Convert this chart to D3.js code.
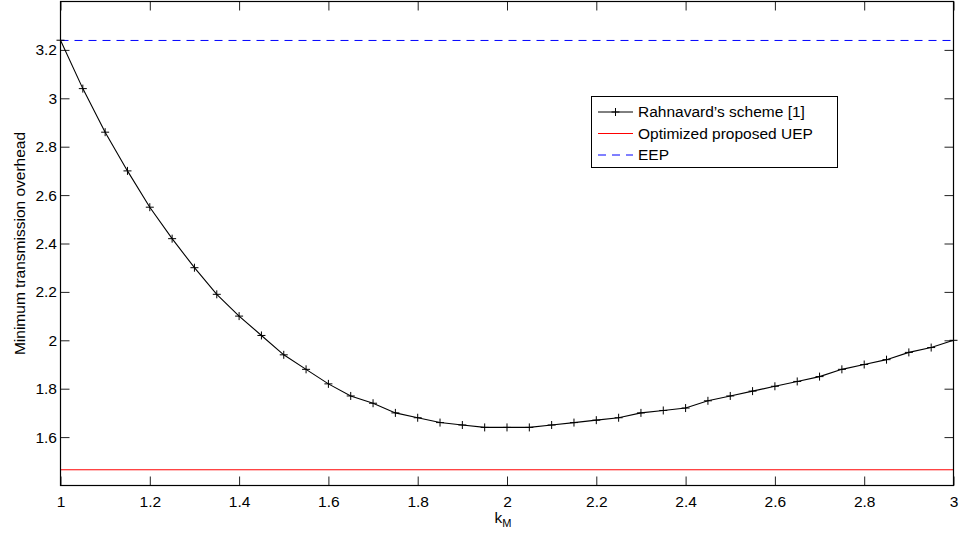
<!DOCTYPE html>
<html>
<head>
<meta charset="utf-8">
<script src="https://cdn.jsdelivr.net/npm/d3@7"></script>
<style>
  html, body { margin: 0; padding: 0; background: #fff; }
  svg { display: block; font-family: "Liberation Sans", Arial, sans-serif; }
</style>
</head>
<body>
<svg id="chart" width="961" height="538"></svg>
<script>
// k_M values and the minimum transmission overhead of Rahnavard's scheme
const kM = [1.00, 1.05, 1.10, 1.15, 1.20, 1.25, 1.30, 1.35, 1.40, 1.45,
            1.50, 1.55, 1.60, 1.65, 1.70, 1.75, 1.80, 1.85, 1.90, 1.95,
            2.00, 2.05, 2.10, 2.15, 2.20, 2.25, 2.30, 2.35, 2.40, 2.45,
            2.50, 2.55, 2.60, 2.65, 2.70, 2.75, 2.80, 2.85, 2.90, 2.95, 3.00];
const rahnavard = [3.24, 3.04, 2.86, 2.70, 2.55, 2.42, 2.30, 2.19, 2.10, 2.02,
                   1.94, 1.88, 1.82, 1.77, 1.74, 1.70, 1.68, 1.66, 1.65, 1.64,
                   1.64, 1.64, 1.65, 1.66, 1.67, 1.68, 1.70, 1.71, 1.72, 1.75,
                   1.77, 1.79, 1.81, 1.83, 1.85, 1.88, 1.90, 1.92, 1.95, 1.97, 2.00];
// Constant reference levels
const optimizedUEP = 1.465;
const eep = 3.239;

const xTicks = [1, 1.2, 1.4, 1.6, 1.8, 2, 2.2, 2.4, 2.6, 2.8, 3];
const yTicks = [1.6, 1.8, 2, 2.2, 2.4, 2.6, 2.8, 3, 3.2];
const legendLabels = ["Rahnavard\u2019s scheme [1]", "Optimized proposed UEP", "EEP"];

const svg = d3.select("#chart");
const L = 60.5, R = 953.5, T = 1.5, B = 485.5;
const fontSize = "15.5px";

const x = d3.scaleLinear().domain([1, 3]).range([L, R]);
const y = d3.scaleLinear().domain([1.4, 3.4]).range([B, T]);

const tickLen = 9;
const fmt = d => String(+d.toFixed(1));

// Axes: ticks point inward on all four sides
const gx = svg.append("g").attr("transform", `translate(0,${B})`)
  .call(d3.axisBottom(x).tickValues(xTicks).tickFormat(fmt).tickSizeInner(-tickLen).tickSizeOuter(0).tickPadding(10));
const gxt = svg.append("g").attr("transform", `translate(0,${T})`)
  .call(d3.axisTop(x).tickValues(xTicks).tickFormat("").tickSizeInner(-tickLen).tickSizeOuter(0));
const gy = svg.append("g").attr("transform", `translate(${L},0)`)
  .call(d3.axisLeft(y).tickValues(yTicks).tickFormat(fmt).tickSizeInner(-tickLen).tickSizeOuter(0).tickPadding(3.5));
const gyr = svg.append("g").attr("transform", `translate(${R},0)`)
  .call(d3.axisRight(y).tickValues(yTicks).tickFormat("").tickSizeInner(-tickLen).tickSizeOuter(0));

[gx, gxt, gy, gyr].forEach(g => {
  g.select(".domain").remove();
  g.selectAll(".tick line").attr("stroke", "#222").attr("stroke-width", 1);
  g.selectAll(".tick text").attr("fill", "#000").style("font-size", fontSize)
    .style("font-family", "'Liberation Sans', Arial, sans-serif");
});
gx.selectAll(".tick text").attr("dy", "0.71em");

// Reference lines
svg.append("line")
  .attr("x1", x(1)).attr("x2", x(3)).attr("y1", y(optimizedUEP)).attr("y2", y(optimizedUEP))
  .attr("stroke", "#ff0000").attr("stroke-width", 1);
svg.append("line")
  .attr("x1", x(1)).attr("x2", x(3)).attr("y1", y(eep)).attr("y2", y(eep))
  .attr("stroke", "#0000ff").attr("stroke-width", 1).attr("stroke-dasharray", "8,6");

// Rahnavard's scheme curve with '+' markers
const pts = kM.map((k, i) => [k, rahnavard[i]]);
svg.append("path")
  .datum(pts)
  .attr("fill", "none").attr("stroke", "#000").attr("stroke-width", 1.1)
  .attr("d", d3.line().x(d => x(d[0])).y(d => y(d[1])));
const ms = 4;
svg.append("g").selectAll("path.mk").data(pts).join("path")
  .attr("class", "mk")
  .attr("fill", "none").attr("stroke", "#000").attr("stroke-width", 1)
  .attr("d", d => {
    const cx = x(d[0]), cy = y(d[1]);
    return `M${cx - ms},${cy}H${cx + ms}M${cx},${cy - ms}V${cy + ms}`;
  });

// Plot frame
svg.append("rect")
  .attr("x", L).attr("y", T).attr("width", R - L).attr("height", B - T)
  .attr("fill", "none").attr("stroke", "#000").attr("stroke-width", 1.2);

// Axis labels
const xl = svg.append("text")
  .attr("x", x(2) - 4).attr("y", 523).attr("text-anchor", "middle")
  .style("font-size", fontSize).attr("fill", "#000");
xl.append("tspan").text("k");
xl.append("tspan").attr("dy", 4).style("font-size", "11px").text("M");

svg.append("text")
  .attr("transform", `translate(25,${(T + B) / 2}) rotate(-90)`)
  .attr("text-anchor", "middle")
  .style("font-size", fontSize).attr("fill", "#000")
  .text("Minimum transmission overhead");

// Legend
const lg = svg.append("g");
lg.append("rect")
  .attr("x", 591.5).attr("y", 96.5).attr("width", 246).attr("height", 71)
  .attr("fill", "#fff").attr("stroke", "#000").attr("stroke-width", 1);
const rowY = [112, 133.5, 155];
const styles = [
  { stroke: "#000", dash: null, marker: true },
  { stroke: "#ff0000", dash: null, marker: false },
  { stroke: "#0000ff", dash: "8,6", marker: false }
];
legendLabels.forEach((lab, i) => {
  const s = styles[i];
  lg.append("line")
    .attr("x1", 598).attr("x2", 633).attr("y1", rowY[i]).attr("y2", rowY[i])
    .attr("stroke", s.stroke).attr("stroke-width", 1)
    .attr("stroke-dasharray", s.dash);
  if (s.marker) {
    const cx = 615.5, cy = rowY[i];
    lg.append("path").attr("fill", "none").attr("stroke", "#000")
      .attr("d", `M${cx - ms},${cy}H${cx + ms}M${cx},${cy - ms}V${cy + ms}`);
  }
  lg.append("text")
    .attr("x", 638).attr("y", rowY[i]).attr("dy", "0.35em")
    .style("font-size", fontSize).attr("fill", "#000")
    .text(lab);
});
</script>
</body>
</html>
